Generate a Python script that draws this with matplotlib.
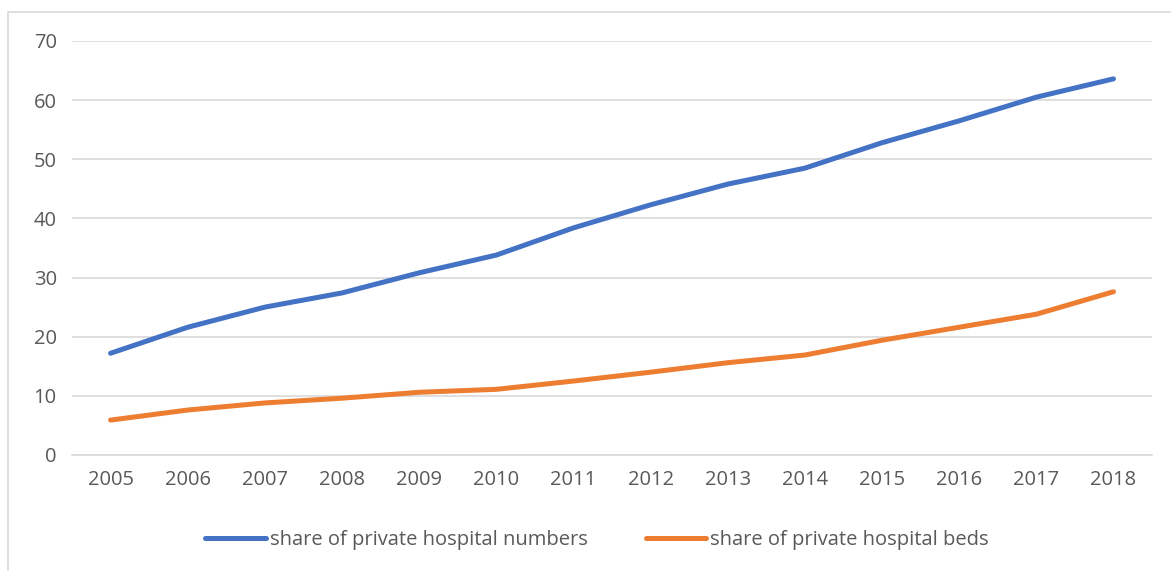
import matplotlib
matplotlib.use('Agg')
import matplotlib.pyplot as plt
from matplotlib.patches import Rectangle

years = ['2005', '2006', '2007', '2008', '2009', '2010', '2011',
         '2012', '2013', '2014', '2015', '2016', '2017', '2018']
hospital_numbers = [17.2, 21.6, 25.0, 27.4, 30.8, 33.8, 38.4,
                    42.3, 45.8, 48.5, 52.8, 56.5, 60.5, 63.6]
hospital_beds = [5.9, 7.6, 8.8, 9.6, 10.6, 11.1, 12.5,
                 14.0, 15.6, 16.9, 19.4, 21.6, 23.8, 27.6]

plt.rcParams['font.family'] = ['Open Sans', 'DejaVu Sans']

fig = plt.figure(figsize=(11.71, 5.71), dpi=100)
ax = fig.add_axes([0.0615, 0.2032, 0.9223, 0.725])

x = range(len(years))
ax.plot(x, hospital_numbers, color='#4472C4', lw=3.6, solid_capstyle='round',
        label='share of private hospital numbers')
ax.plot(x, hospital_beds, color='#ED7D31', lw=3.6, solid_capstyle='round',
        label='share of private hospital beds')

ax.set_xlim(-0.5, len(years) - 0.5)
ax.set_ylim(0, 70)
ax.set_yticks(range(0, 71, 10))
ax.set_xticks(list(x))
ax.set_xticklabels(years)
ax.grid(axis='y', color='#D9D9D9', lw=1.2)
ax.set_axisbelow(True)
for s in ax.spines.values():
    s.set_visible(False)
ax.spines['bottom'].set_visible(True)
ax.spines['bottom'].set_color('#D9D9D9')
ax.spines['bottom'].set_linewidth(1.2)
ax.tick_params(length=0, labelsize=14.5, colors='#595959', pad=11)
ax.tick_params(axis='y', pad=11)

leg = fig.legend(loc='center', bbox_to_anchor=(0.51, 0.054), ncol=2, frameon=False,
                 fontsize=14.5, handlelength=3.0, handletextpad=0.2, columnspacing=2.9)
for t in leg.get_texts():
    t.set_color('#595959')

fig.patches.append(Rectangle((8 / 1171, -0.1), 1.2, 1 - 12 / 571 + 0.1,
                             transform=fig.transFigure, fill=False,
                             edgecolor='#D9D9D9', lw=1.2))

fig.savefig('out.png', dpi=100)
